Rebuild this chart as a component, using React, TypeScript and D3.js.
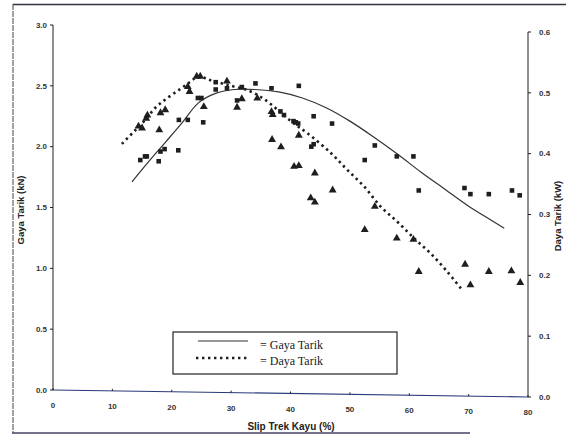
import React from "react";
import * as d3 from "d3";

// Measured points: Gaya Tarik (kN) – squares
const gayaX = [14.7, 15.5, 15.8, 17.8, 18.1, 18.8, 21.1, 21.2, 22.7, 25.3, 24.4, 25.0, 27.4, 27.4, 29.3, 31.0, 31.8, 34.1, 36.8, 38.3, 38.9, 40.5, 40.9, 41.3, 41.4, 43.5, 43.9, 43.9, 47.0, 52.5, 54.2, 57.9, 60.7, 61.6, 69.3, 70.3, 73.4, 77.3, 78.6];
const gayaY = [1.89, 1.92, 1.92, 1.88, 1.96, 1.98, 1.97, 2.22, 2.22, 2.20, 2.40, 2.40, 2.53, 2.47, 2.48, 2.38, 2.49, 2.52, 2.48, 2.29, 2.26, 2.21, 2.20, 2.19, 2.50, 2.00, 2.02, 2.25, 2.19, 1.89, 2.01, 1.92, 1.92, 1.64, 1.66, 1.61, 1.61, 1.64, 1.60];

// Measured points: Daya Tarik (kW) – triangles
const dayaX = [14.4, 15.0, 15.7, 15.9, 17.9, 18.1, 18.9, 22.7, 23.0, 24.2, 24.8, 25.4, 29.3, 31.0, 31.8, 34.4, 36.8, 37.0, 36.9, 38.4, 41.4, 40.6, 41.4, 44.1, 43.4, 44.1, 47.1, 52.5, 54.2, 57.9, 60.7, 61.6, 69.4, 70.3, 73.4, 77.2, 78.7];
const dayaY = [0.445, 0.442, 0.458, 0.463, 0.439, 0.467, 0.472, 0.510, 0.502, 0.527, 0.527, 0.477, 0.519, 0.476, 0.490, 0.491, 0.469, 0.464, 0.423, 0.411, 0.430, 0.379, 0.380, 0.368, 0.327, 0.320, 0.340, 0.275, 0.313, 0.261, 0.259, 0.206, 0.218, 0.184, 0.206, 0.207, 0.188];

// Fitted curves
const gayaCurveX = [13.3, 16, 19, 21.8, 24.5, 27.5, 30.5, 34, 38, 42, 46, 50, 54, 58, 62, 66, 70, 73, 76];
const gayaCurveY = [1.71, 1.87, 2.04, 2.2, 2.36, 2.44, 2.47, 2.47, 2.45, 2.4, 2.32, 2.21, 2.08, 1.94, 1.79, 1.65, 1.51, 1.42, 1.33];
const dayaCurveX = [11.6, 13.6, 15.3, 17.2, 19.2, 21.4, 23.1, 24.5, 26.4, 29.4, 33.1, 35.8, 38.3, 40.5, 42.8, 46.8, 49.6, 52.4, 55.2, 58.0, 60.8, 63.6, 66.4, 68.9];
const dayaCurveY = [0.416, 0.436, 0.453, 0.475, 0.491, 0.506, 0.518, 0.527, 0.521, 0.513, 0.503, 0.488, 0.468, 0.450, 0.434, 0.401, 0.373, 0.346, 0.313, 0.288, 0.261, 0.236, 0.206, 0.176];

const xTicks = [0, 10, 20, 30, 40, 50, 60, 70, 80];
const leftTicks = [0, 0.5, 1.0, 1.5, 2.0, 2.5, 3.0];
const rightTicks = [0, 0.1, 0.2, 0.3, 0.4, 0.5, 0.6];

export default function App() {
  const x = d3.scaleLinear().domain([0, 80]).range([53, 528]);
  const yL = d3.scaleLinear().domain([0, 3]).range([390, 25]);
  const yR = d3.scaleLinear().domain([0, 0.6]).range([397, 32]);

  const gayaLine = d3
    .line<number>()
    .x((_, i) => x(gayaCurveX[i]))
    .y((d) => yL(d))
    .curve(d3.curveCatmullRom.alpha(0.5));
  const dayaLine = d3
    .line<number>()
    .x((_, i) => x(dayaCurveX[i]))
    .y((d) => yR(d))
    .curve(d3.curveCatmullRom.alpha(0.5));

  const tri = d3.symbol().type(d3.symbolTriangle).size(27)() as string;
  const sq = d3.symbol().type(d3.symbolSquare).size(21)() as string;

  const ink = "#1e1e1e";
  const sans = "'Liberation Sans', Arial, sans-serif";
  const serif = "'Liberation Serif', 'Times New Roman', serif";

  return (
    <svg
      width={566}
      height={439}
      style={{ position: "absolute", left: 0, top: 0, background: "#fff" }}
    >
      {/* outer frame */}
      <line x1={13} y1={4.5} x2={566} y2={4.5} stroke="#334" strokeWidth={1.4} />
      <line x1={13} y1={4} x2={13} y2={433} stroke="#444" strokeWidth={1} strokeDasharray="6 1" />
      <line x1={12} y1={433} x2={470} y2={433} stroke="#446" strokeWidth={1.4} />

      {/* left axis */}
      <line x1={x(0)} y1={yL(3)} x2={x(0)} y2={yL(0)} stroke={ink} strokeWidth={1} />
      {leftTicks.map((t) => (
        <g key={"l" + t}>
          <line x1={x(0) - 3} x2={x(0)} y1={yL(t)} y2={yL(t)} stroke={ink} />
          <text x={x(0) - 6} y={yL(t)} dy="0.35em" textAnchor="end" fontSize={8} fontFamily={sans} fontWeight="bold" fill="#333">
            {t.toFixed(1)}
          </text>
        </g>
      ))}

      {/* right axis */}
      <line x1={x(80)} y1={yR(0.6)} x2={x(80)} y2={yR(0)} stroke={ink} strokeWidth={1} />
      {rightTicks.map((t) => (
        <g key={"r" + t}>
          <line x1={x(80)} x2={x(80) + 3} y1={yR(t)} y2={yR(t)} stroke={ink} />
          <text x={x(80) + 11} y={yR(t)} dy="0.35em" textAnchor="start" fontSize={8} fontFamily={sans} fontWeight="bold" fill="#333">
            {t.toFixed(1)}
          </text>
        </g>
      ))}

      {/* x axis (slightly tilted like the scan) */}
      <line x1={x(0)} y1={yL(0)} x2={x(80)} y2={yR(0)} stroke="#2a3a7a" strokeWidth={1.2} />
      {xTicks.map((t) => {
        const yy = yL(0) + ((yR(0) - yL(0)) * t) / 80;
        return (
          <g key={"x" + t}>
            <line x1={x(t)} x2={x(t)} y1={yy} y2={yy - 2} stroke={ink} />
            <text x={x(t)} y={yy + 18} textAnchor="middle" fontSize={8} fontFamily={sans} fontWeight="bold" fill="#333">
              {t}
            </text>
          </g>
        );
      })}

      {/* axis titles */}
      <text x={291} y={430} textAnchor="middle" fontSize={10} fontFamily={sans} fontWeight="bold" fill="#222">
        Slip Trek Kayu (%)
      </text>
      <text transform="translate(24,210) rotate(-90)" textAnchor="middle" fontSize={9.5} fontFamily={sans} fontWeight="bold" fill="#222">
        Gaya Tarik (kN)
      </text>
      <text transform="translate(561,216) rotate(-90)" textAnchor="middle" fontSize={9.5} fontFamily={sans} fontWeight="bold" fill="#222">
        Daya Tarik (kW)
      </text>

      {/* fitted curves */}
      <path d={gayaLine(gayaCurveY) || ""} fill="none" stroke="#333" strokeWidth={1.2} />
      <path d={dayaLine(dayaCurveY) || ""} fill="none" stroke={ink} strokeWidth={2.6} strokeDasharray="2.4 3.6" />

      {/* points */}
      {gayaX.map((v, i) => (
        <path key={"s" + i} d={sq} transform={`translate(${x(v)},${yL(gayaY[i])})`} fill={ink} />
      ))}
      {dayaX.map((v, i) => (
        <path key={"t" + i} d={tri} transform={`translate(${x(v)},${yR(dayaY[i])})`} fill={ink} />
      ))}

      {/* legend */}
      <rect x={173} y={332} width={224} height={42} fill="#fff" stroke="#222" strokeWidth={1.2} />
      <line x1={198} x2={248} y1={341} y2={341} stroke="#333" strokeWidth={1.2} />
      <line x1={196} x2={248} y1={358} y2={358} stroke={ink} strokeWidth={2.6} strokeDasharray="2.4 3.6" />
      <text x={260} y={349} fontSize={12} fontFamily={serif} fill="#222">= Gaya Tarik</text>
      <text x={260} y={365} fontSize={12} fontFamily={serif} fill="#222">= Daya Tarik</text>
    </svg>
  );
}
